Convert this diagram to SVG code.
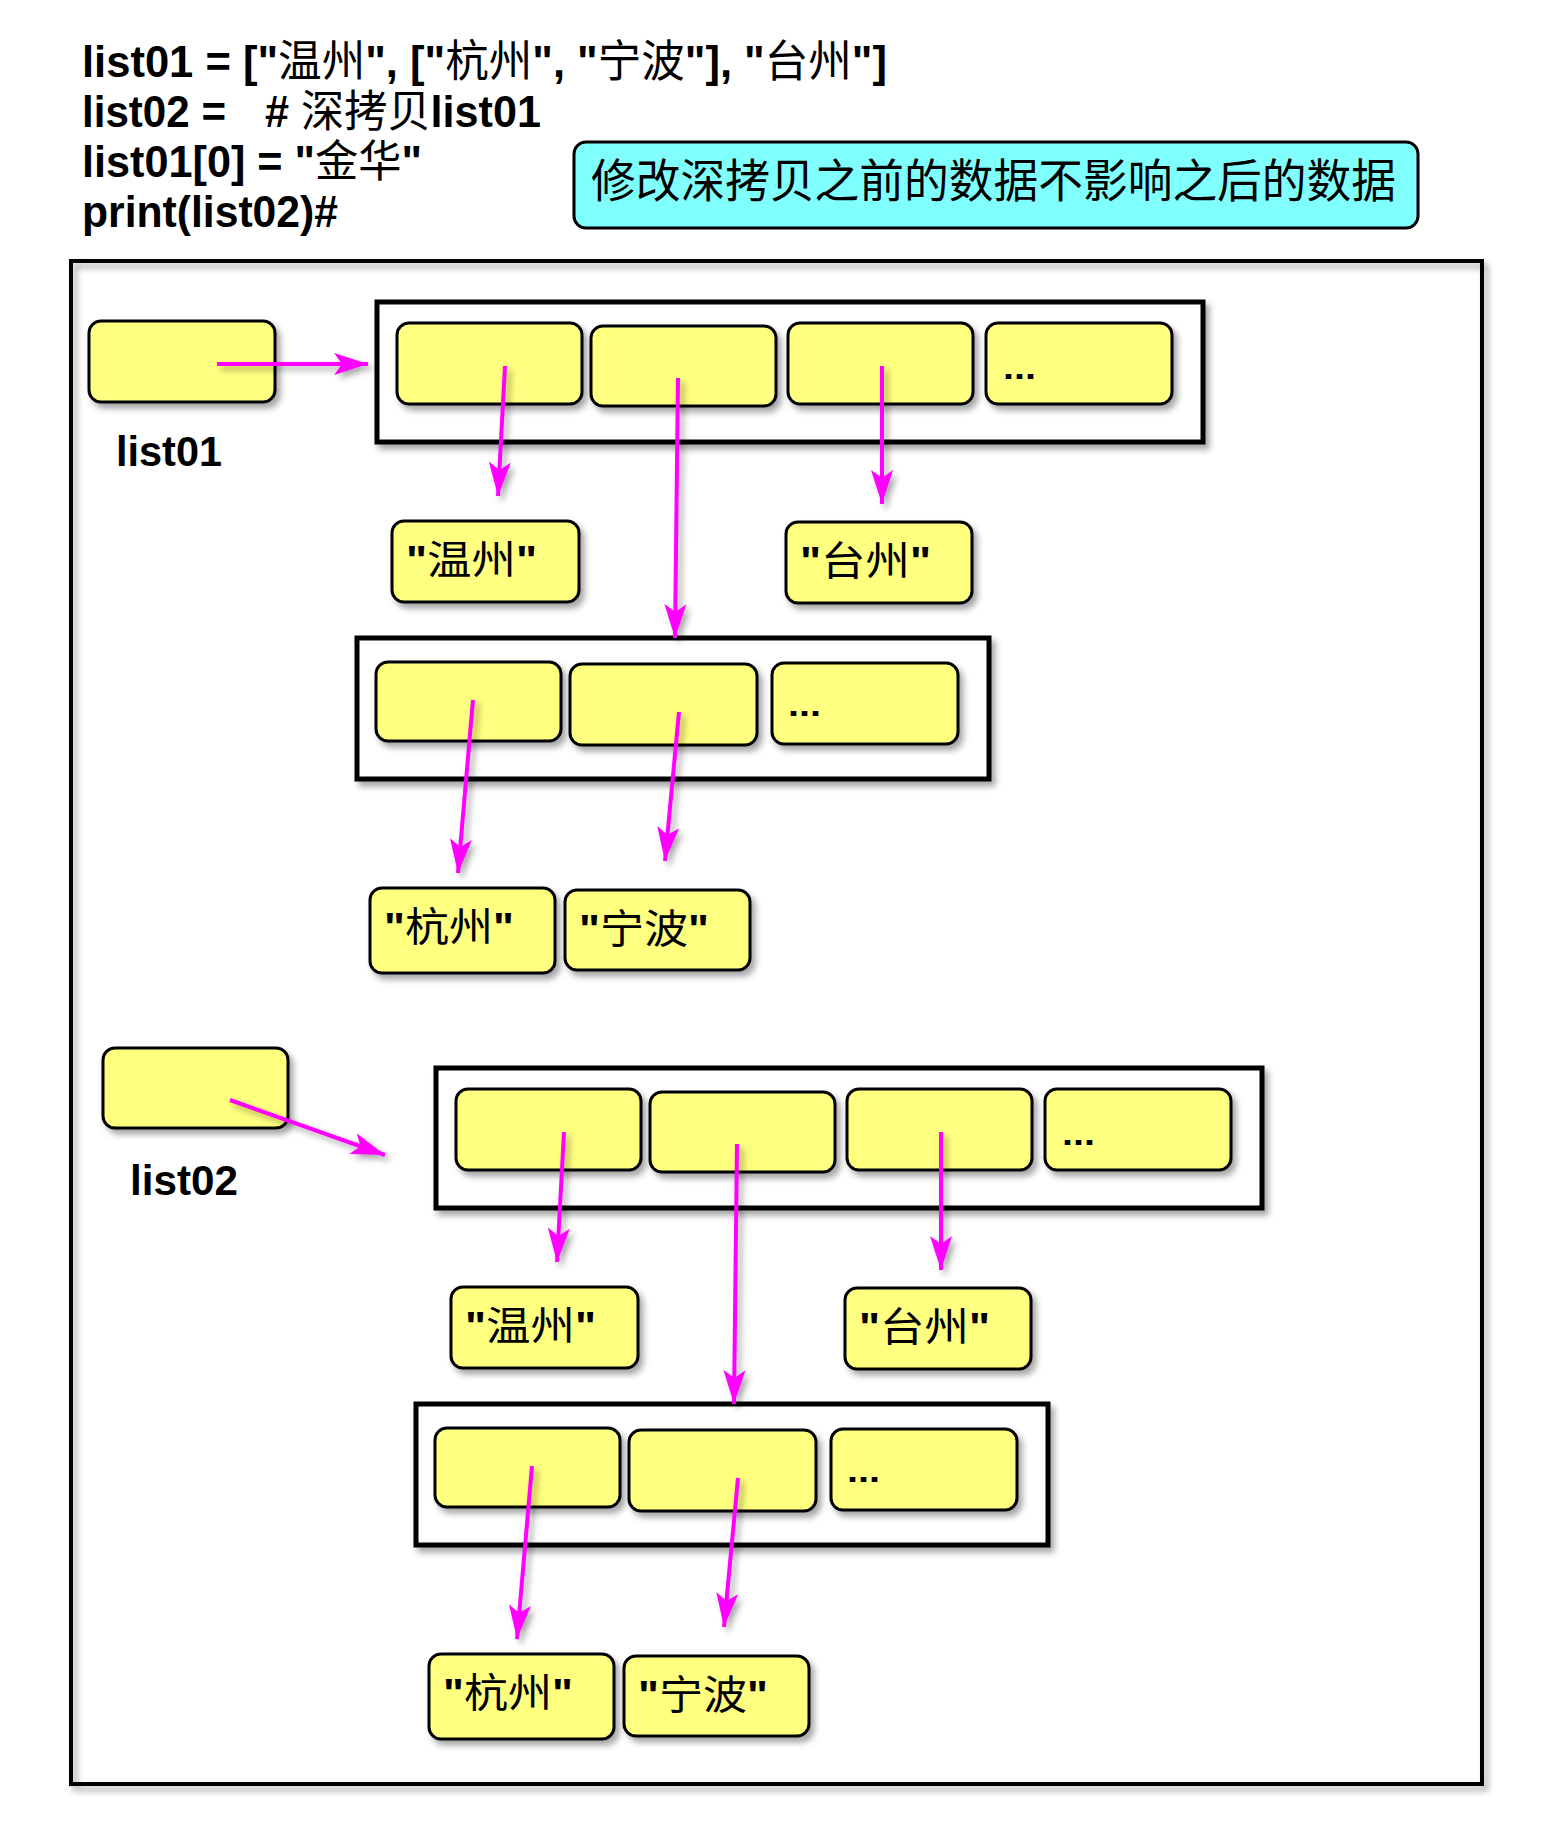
<svg xmlns="http://www.w3.org/2000/svg" width="1553" height="1837" viewBox="0 0 1553 1837">
<defs>
<filter id="sh" x="-10%" y="-10%" width="130%" height="140%">
<feDropShadow dx="4" dy="5" stdDeviation="3" flood-color="#000" flood-opacity="0.35"/>
</filter>
<filter id="ash" filterUnits="userSpaceOnUse" x="-200" y="-200" width="2000" height="2400">
<feDropShadow dx="4" dy="4" stdDeviation="3" flood-color="#000" flood-opacity="0.35"/>
</filter>
<marker id="ah" markerUnits="userSpaceOnUse" markerWidth="36" markerHeight="26" refX="34" refY="13" orient="auto">
<path d="M0,2 L34,13 L0,24 L8,13 Z" fill="#FF00FF"/>
</marker>
</defs>
<style>
.cell{fill:#FFFF80;stroke:#000;stroke-width:3;filter:url(#sh)}
.box{fill:#fff;stroke:#000;stroke-width:5;filter:url(#sh)}
.code{font-family:"Liberation Sans",Arial,"Noto Sans CJK SC",sans-serif;font-weight:bold;font-size:44px;fill:#000}
.cjk{font-family:"Noto Sans CJK SC",sans-serif;font-weight:normal}
.lbl{font-family:"Liberation Sans",Arial,sans-serif;font-weight:bold;font-size:42px;fill:#000}
.val{font-family:"Liberation Sans",Arial,"Noto Sans CJK SC",sans-serif;font-weight:bold;font-size:40px;fill:#000}
.dots{font-family:"Liberation Sans",Arial,sans-serif;font-weight:bold;font-size:34px;fill:#000}
.arr{stroke:#FF00FF;stroke-width:4;fill:none;marker-end:url(#ah);filter:url(#ash)}
</style>
<rect width="1553" height="1837" fill="#fff"/>

<g id="code">
<text class="code" x="82" y="77" textLength="805" lengthAdjust="spacingAndGlyphs">list01 = ["<tspan class="cjk">温州</tspan>", ["<tspan class="cjk">杭州</tspan>", "<tspan class="cjk">宁波</tspan>"], "<tspan class="cjk">台州</tspan>"]</text>
<text class="code" x="82" y="127" textLength="144" lengthAdjust="spacingAndGlyphs">list02 =</text>
<text class="code" x="265" y="127" textLength="276" lengthAdjust="spacingAndGlyphs"># <tspan class="cjk">深拷贝</tspan>list01</text>
<text class="code" x="82" y="177" textLength="340" lengthAdjust="spacingAndGlyphs">list01[0] = "<tspan class="cjk">金华</tspan>"</text>
<text class="code" x="82" y="227" textLength="256" lengthAdjust="spacingAndGlyphs">print(list02)#</text>
</g>

<g id="note">
<rect x="574" y="142" width="844" height="86" rx="12" fill="#80FFFF" stroke="#000" stroke-width="3"/>
<text x="591" y="197" font-family="Noto Sans CJK SC,sans-serif" font-size="46" textLength="805" lengthAdjust="spacingAndGlyphs" fill="#000">修改深拷贝之前的数据不影响之后的数据</text>
</g>

<g id="frame">
<rect x="71" y="261" width="1411" height="1523" fill="none" stroke="#000" stroke-width="4" filter="url(#sh)"/>
</g>

<g id="section1">
<g id="var1"><rect class="cell" x="89" y="321" width="186" height="81" rx="12"/></g>
<g id="label1"><text class="lbl" x="116" y="466" textLength="106" lengthAdjust="spacingAndGlyphs">list01</text></g>
<g id="list1">
<rect class="box" x="377" y="302" width="826" height="140"/>
<rect class="cell" x="397" y="323" width="185" height="81" rx="12"/>
<rect class="cell" x="591" y="326" width="185" height="80" rx="12"/>
<rect class="cell" x="788" y="323" width="185" height="81" rx="12"/>
<rect class="cell" x="986" y="323" width="186" height="81" rx="12"/>
<text class="dots" x="1003" y="379" textLength="33" lengthAdjust="spacingAndGlyphs">...</text>
</g>
<g id="wz1"><rect class="cell" x="392" y="521" width="187" height="81" rx="12"/><text class="val" x="406" y="574" textLength="131" lengthAdjust="spacingAndGlyphs">"<tspan class="cjk">温州</tspan>"</text></g>
<g id="tz1"><rect class="cell" x="786" y="522" width="186" height="81" rx="12"/><text class="val" x="800" y="575" textLength="131" lengthAdjust="spacingAndGlyphs">"<tspan class="cjk">台州</tspan>"</text></g>
<g id="sub1">
<rect class="box" x="357" y="638" width="632" height="141"/>
<rect class="cell" x="376" y="662" width="185" height="79" rx="12"/>
<rect class="cell" x="570" y="664" width="187" height="81" rx="12"/>
<rect class="cell" x="772" y="663" width="186" height="81" rx="12"/>
<text class="dots" x="788" y="716" textLength="33" lengthAdjust="spacingAndGlyphs">...</text>
</g>
<g id="hz1"><rect class="cell" x="370" y="888" width="185" height="85" rx="12"/><text class="val" x="384" y="941" textLength="130" lengthAdjust="spacingAndGlyphs">"<tspan class="cjk">杭州</tspan>"</text></g>
<g id="nb1"><rect class="cell" x="565" y="890" width="185" height="80" rx="12"/><text class="val" x="579" y="943" textLength="130" lengthAdjust="spacingAndGlyphs">"<tspan class="cjk">宁波</tspan>"</text></g>
</g>

<g id="section2">
<g id="var2"><rect class="cell" x="103" y="1048" width="185" height="80" rx="12"/></g>
<g id="label2"><text class="lbl" x="130" y="1195" textLength="108" lengthAdjust="spacingAndGlyphs">list02</text></g>
<g transform="translate(59,766)">
<g id="list2">
<rect class="box" x="377" y="302" width="826" height="140"/>
<rect class="cell" x="397" y="323" width="185" height="81" rx="12"/>
<rect class="cell" x="591" y="326" width="185" height="80" rx="12"/>
<rect class="cell" x="788" y="323" width="185" height="81" rx="12"/>
<rect class="cell" x="986" y="323" width="186" height="81" rx="12"/>
<text class="dots" x="1003" y="379" textLength="33" lengthAdjust="spacingAndGlyphs">...</text>
</g>
<g id="wz2"><rect class="cell" x="392" y="521" width="187" height="81" rx="12"/><text class="val" x="406" y="574" textLength="131" lengthAdjust="spacingAndGlyphs">"<tspan class="cjk">温州</tspan>"</text></g>
<g id="tz2"><rect class="cell" x="786" y="522" width="186" height="81" rx="12"/><text class="val" x="800" y="575" textLength="131" lengthAdjust="spacingAndGlyphs">"<tspan class="cjk">台州</tspan>"</text></g>
<g id="sub2">
<rect class="box" x="357" y="638" width="632" height="141"/>
<rect class="cell" x="376" y="662" width="185" height="79" rx="12"/>
<rect class="cell" x="570" y="664" width="187" height="81" rx="12"/>
<rect class="cell" x="772" y="663" width="186" height="81" rx="12"/>
<text class="dots" x="788" y="716" textLength="33" lengthAdjust="spacingAndGlyphs">...</text>
</g>
<g id="hz2"><rect class="cell" x="370" y="888" width="185" height="85" rx="12"/><text class="val" x="384" y="941" textLength="130" lengthAdjust="spacingAndGlyphs">"<tspan class="cjk">杭州</tspan>"</text></g>
<g id="nb2"><rect class="cell" x="565" y="890" width="185" height="80" rx="12"/><text class="val" x="579" y="943" textLength="130" lengthAdjust="spacingAndGlyphs">"<tspan class="cjk">宁波</tspan>"</text></g>
</g>
</g>

<g id="connectors">
<line class="arr" x1="217" y1="364" x2="368" y2="364"/>
<line class="arr" x1="505" y1="366" x2="498" y2="496"/>
<line class="arr" x1="678" y1="378" x2="675" y2="638"/>
<line class="arr" x1="882" y1="366" x2="882" y2="504"/>
<line class="arr" x1="473" y1="700" x2="458" y2="873"/>
<line class="arr" x1="679" y1="712" x2="665" y2="861"/>
<line class="arr" x1="230" y1="1100" x2="385" y2="1155"/>
<g transform="translate(59,766)">
<line class="arr" x1="505" y1="366" x2="498" y2="496"/>
<line class="arr" x1="678" y1="378" x2="675" y2="638"/>
<line class="arr" x1="882" y1="366" x2="882" y2="504"/>
<line class="arr" x1="473" y1="700" x2="458" y2="873"/>
<line class="arr" x1="679" y1="712" x2="665" y2="861"/>
</g>
</g>
</svg>
